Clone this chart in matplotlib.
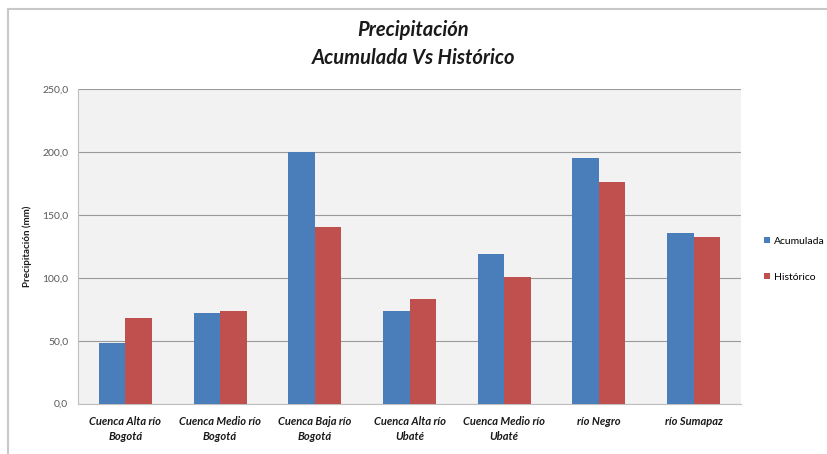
import numpy as np
import matplotlib
matplotlib.use('Agg')
from matplotlib import pyplot as plt
from matplotlib.patches import Rectangle
from matplotlib.ticker import FuncFormatter

# Precipitation per basin (mm)
cuencas = ['Cuenca Alta río\nBogotá', 'Cuenca Medio río\nBogotá', 'Cuenca Baja río\nBogotá',
           'Cuenca Alta río\nUbaté', 'Cuenca Medio río\nUbaté', 'río Negro', 'río Sumapaz']
acumulada = [48.5, 72.4, 200.2, 73.5, 119.0, 195.4, 135.5]
historico = [68.1, 73.5, 140.8, 83.0, 100.9, 176.0, 132.3]
series_names = ['Acumulada', 'Histórico']
y_ticks = [0, 50, 100, 150, 200, 250]

plt.rcParams['font.family'] = ['Lato', 'DejaVu Sans']

fig = plt.figure(figsize=(8.27, 4.54), dpi=100)
# chart frame
fig.patches.append(Rectangle((8 / 827, -0.1), 1.2, (454 - 9) / 454 + 0.1,
                             transform=fig.transFigure, fill=False,
                             edgecolor='#c8c8c8', linewidth=1.5))

ax = fig.add_axes([78 / 827, 1 - 403.5 / 454, (741 - 78) / 827, (403.5 - 89.5) / 454])
ax.set_facecolor('#f2f2f2')

x = np.arange(len(cuencas))
w = 0.28
ax.bar(x - w / 2, acumulada, w, color='#4a7ebb', label=series_names[0], zorder=3)
ax.bar(x + w / 2, historico, w, color='#c0504d', label=series_names[1], zorder=3)

ax.set_xlim(-0.5, len(cuencas) - 0.5)
ax.set_ylim(0, 250)
ax.set_yticks(y_ticks)
ax.yaxis.set_major_formatter(FuncFormatter(lambda v, p: f'{v:.1f}'.replace('.', ',')))
ax.yaxis.grid(True, color='#9a9a9a', linewidth=0.8, zorder=0)
ax.tick_params(axis='y', labelsize=7.5, colors='#595959', length=0, pad=7)
ax.tick_params(axis='x', length=0, pad=9)
ax.set_xticks(x)
ax.set_xticklabels(cuencas, fontsize=8, fontweight='bold', style='italic', color='#1a1a1a',
                   linespacing=1.5)

for side in ['top', 'right']:
    ax.spines[side].set_visible(False)
ax.spines['left'].set_color('#bfbfbf')
ax.spines['bottom'].set_color('#bfbfbf')

ax.set_ylabel('Precipitación (mm)', fontsize=7, fontweight='bold', color='#1a1a1a')
ax.yaxis.set_label_coords(-46 / 663, 0.5)

fig.text(0.5, 1 - 44 / 454, 'Precipitación\nAcumulada Vs Histórico', ha='center', va='center',
         fontsize=14.5, fontweight='bold', style='italic', color='#1a1a1a', linespacing=1.45)

ax.legend(loc='center left', bbox_to_anchor=(1.028, 0.46), frameon=False, fontsize=7.5,
          handlelength=0.6, handleheight=0.6, labelspacing=2.6, handletextpad=0.4,
          borderaxespad=0)

fig.savefig('out.png', dpi=100)
